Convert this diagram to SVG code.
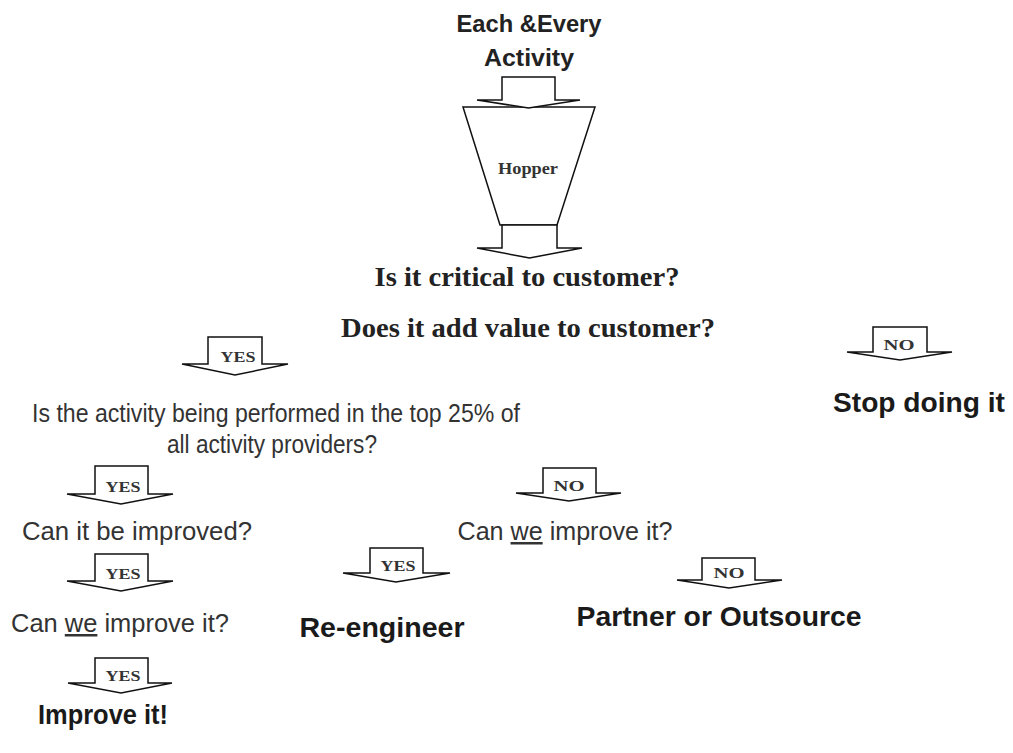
<svg xmlns="http://www.w3.org/2000/svg" width="1013" height="753" viewBox="0 0 1013 753">
  <style>
    .arrow { fill: #fff; stroke: #111; stroke-width: 1.5; stroke-linejoin: miter; }
    .hopper { fill: #fff; stroke: #111; stroke-width: 1.5; }
    .lbl { font-family: "Liberation Serif", serif; font-weight: bold; font-size: 14px; fill: #333; text-anchor: middle; }
    .title { font-family: "Liberation Sans", sans-serif; font-weight: bold; font-size: 23px; fill: #222; text-anchor: middle; }
    .q { font-family: "Liberation Serif", serif; font-weight: bold; font-size: 28px; fill: #222; text-anchor: middle; }
    .body { font-family: "Liberation Sans", sans-serif; font-size: 25px; fill: #333; text-anchor: middle; }
    .act { font-family: "Liberation Sans", sans-serif; font-weight: bold; font-size: 28px; fill: #1a1a1a; text-anchor: middle; }
    .u { text-decoration: underline; }
  </style>

  <!-- Intake and hopper -->
  <g id="intake">
    <text class="title" x="529" y="32" textLength="145" lengthAdjust="spacingAndGlyphs">Each &amp;Every</text>
    <text class="title" x="529" y="66" textLength="90" lengthAdjust="spacingAndGlyphs">Activity</text>
  </g>
  <g id="hopper">
    <polygon class="hopper" points="463,107 595,107 557,225 500,225"/>
    <text x="528" y="174" font-family="'Liberation Serif', serif" font-weight="bold" font-size="16" fill="#333" text-anchor="middle" textLength="60" lengthAdjust="spacingAndGlyphs">Hopper</text>
  </g>

  <!-- Block arrows (connectors) -->
  <g id="connectors">
    <polygon class="arrow" points="502,77 555,77 555,100 580,100 528.5,108 477,100 502,100"/>
    <polygon class="arrow" points="502,225 557,225 557,248 582,248 529.5,258 477,248 502,248"/>

    <polygon class="arrow" points="208,337 262,337 262,364 288,364 235,375 182,364 208,364"/>
    <text class="lbl" x="238" y="362" textLength="35" lengthAdjust="spacingAndGlyphs">YES</text>

    <polygon class="arrow" points="873,327 927,327 927,352 952,352 900,360 847,352 873,352"/>
    <text class="lbl" x="899" y="350" textLength="31" lengthAdjust="spacingAndGlyphs">NO</text>

    <polygon class="arrow" points="95,466 148,466 148,494 173,494 121,504 67,494 95,494"/>
    <text class="lbl" x="123" y="492" textLength="35" lengthAdjust="spacingAndGlyphs">YES</text>

    <polygon class="arrow" points="543,468 596,468 596,493 621,493 569,501 516,493 543,493"/>
    <text class="lbl" x="569" y="491" textLength="31" lengthAdjust="spacingAndGlyphs">NO</text>

    <polygon class="arrow" points="95,554 148,554 148,581 173,581 121,591 67,581 95,581"/>
    <text class="lbl" x="123" y="579" textLength="35" lengthAdjust="spacingAndGlyphs">YES</text>

    <polygon class="arrow" points="370,548 423,548 423,573 450,573 396,582 343,573 370,573"/>
    <text class="lbl" x="398" y="571" textLength="35" lengthAdjust="spacingAndGlyphs">YES</text>

    <polygon class="arrow" points="702,558 755,558 755,580 782,580 729,588 677,580 702,580"/>
    <text class="lbl" x="729" y="578" textLength="31" lengthAdjust="spacingAndGlyphs">NO</text>

    <polygon class="arrow" points="95,658 148,658 148,683 172,683 121,693 68,683 95,683"/>
    <text class="lbl" x="123" y="681" textLength="35" lengthAdjust="spacingAndGlyphs">YES</text>
  </g>

  <!-- Screening questions -->
  <g id="q-critical">
    <text class="q" x="527" y="286" textLength="305" lengthAdjust="spacingAndGlyphs">Is it critical to customer?</text>
  </g>
  <g id="q-value">
    <text class="q" x="528" y="337" textLength="374" lengthAdjust="spacingAndGlyphs">Does it add value to customer?</text>
  </g>
  <g id="q-top25">
    <text class="body" x="276" y="422" textLength="488" lengthAdjust="spacingAndGlyphs">Is the activity being performed in the top 25% of</text>
    <text class="body" x="272" y="453" textLength="210" lengthAdjust="spacingAndGlyphs">all activity providers?</text>
  </g>
  <g id="stop">
    <text class="act" x="919" y="412" textLength="172" lengthAdjust="spacingAndGlyphs">Stop doing it</text>
  </g>
  <g id="q-improvable">
    <text class="body" x="137" y="540" textLength="230" lengthAdjust="spacingAndGlyphs">Can it be improved?</text>
  </g>
  <g id="q-we-right">
    <text class="body" x="565" y="540" textLength="215" lengthAdjust="spacingAndGlyphs">Can <tspan class="u">we</tspan> improve it?</text>
  </g>
  <g id="q-we-left">
    <text class="body" x="120" y="632" textLength="218" lengthAdjust="spacingAndGlyphs">Can <tspan class="u">we</tspan> improve it?</text>
  </g>
  <g id="reengineer">
    <text class="act" x="382" y="637" textLength="165" lengthAdjust="spacingAndGlyphs">Re-engineer</text>
  </g>
  <g id="partner">
    <text class="act" x="719" y="626" textLength="285" lengthAdjust="spacingAndGlyphs">Partner or Outsource</text>
  </g>
  <g id="improve">
    <text class="act" x="103" y="724" textLength="130" lengthAdjust="spacingAndGlyphs">Improve it!</text>
  </g>
</svg>
